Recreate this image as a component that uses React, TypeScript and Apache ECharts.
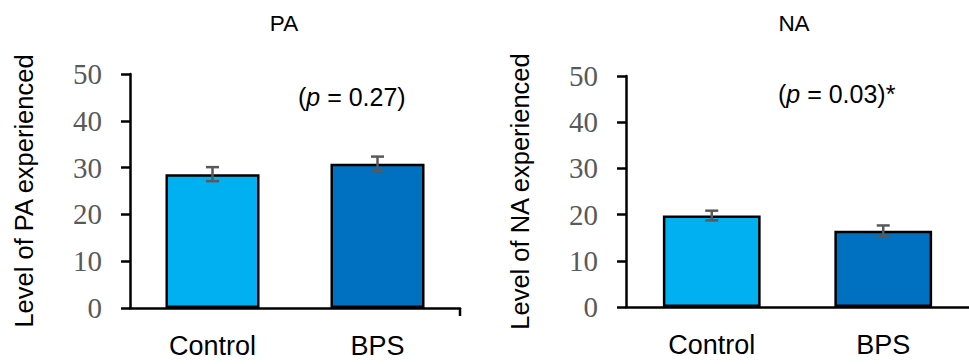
import React, { useEffect, useRef } from 'react';
import * as echarts from 'echarts';

const categories = ['Control', 'BPS'];
const paValues = [28.6, 30.8];
const paErrors = [1.5, 1.55];
const naValues = [19.8, 16.5];
const naErrors = [1.05, 1.15];
const panelTitles = ['PA', 'NA'];
const yAxisNames = ['Level of PA experienced', 'Level of NA experienced'];
const pValues = ['0.27', '0.03'];
const pSuffix = ['', '*'];
const barColors = ['#00B0F0', '#0070C0'];
const yMin = 0;
const yMax = 50;
const yInterval = 10;

const SANS = 'Liberation Sans, Arial, sans-serif';
const SERIF = 'Liberation Serif, Times New Roman, serif';
const GREY = '#595959';

const grids = [
  { left: 130, top: 74, width: 330, height: 234 },
  { left: 626, top: 76, width: 352, height: 231 },
];

function errorRender(params: any, api: any) {
  const x = api.value(0);
  const m = api.value(1);
  const e = api.value(2);
  const top = api.coord([x, m + e]);
  const bot = api.coord([x, m - e]);
  const hw = 6.5;
  const style = { stroke: GREY, lineWidth: 2.5 };
  return {
    type: 'group',
    children: [
      { type: 'line', shape: { x1: top[0], y1: top[1], x2: bot[0], y2: bot[1] }, style },
      { type: 'line', shape: { x1: top[0] - hw, y1: top[1], x2: top[0] + hw, y2: top[1] }, style },
      { type: 'line', shape: { x1: bot[0] - hw, y1: bot[1], x2: bot[0] + hw, y2: bot[1] }, style },
    ],
  };
}

export default function App() {
  const ref = useRef<HTMLDivElement>(null);
  useEffect(() => {
    if (!ref.current) return;
    const chart = echarts.init(ref.current, undefined, { renderer: 'svg' });
    const values = [paValues, naValues];
    const errors = [paErrors, naErrors];
    const xAxes = grids.map((_, i) => ({
      type: 'category' as const,
      gridIndex: i,
      data: categories,
      axisLine: { lineStyle: { color: '#000', width: 2.5 } },
      axisTick: { alignWithLabel: true, length: 8, lineStyle: { color: '#000', width: 2.5 } },
      axisLabel: { margin: 24, fontSize: 27, color: '#000', fontFamily: SANS },
    }));
    const yAxes = grids.map((_, i) => ({
      type: 'value' as const,
      gridIndex: i,
      min: yMin,
      max: yMax,
      interval: yInterval,
      name: yAxisNames[i],
      nameLocation: 'middle' as const,
      nameGap: 93,
      nameTextStyle: { fontSize: 25.5, color: '#000', fontFamily: SANS },
      axisLine: { show: true, lineStyle: { color: '#000', width: 2.5 } },
      axisTick: { show: true, length: 9, lineStyle: { color: '#000', width: 2.5 } },
      axisLabel: { margin: 28, fontSize: 29, color: GREY, fontFamily: SERIF },
      splitLine: { show: false },
    }));
    const series: any[] = [];
    grids.forEach((_, i) => {
      series.push({
        type: 'bar',
        xAxisIndex: i,
        yAxisIndex: i,
        barWidth: '57%',
        data: values[i].map((v, j) => ({
          value: v,
          itemStyle: { color: barColors[j], borderColor: '#000', borderWidth: 2.5 },
        })),
      });
      series.push({
        type: 'custom',
        xAxisIndex: i,
        yAxisIndex: i,
        renderItem: errorRender,
        encode: { x: 0, y: 1 },
        z: 5,
        data: values[i].map((v, j) => [j, v, errors[i][j]]),
      });
    });
    const titleStyle = { fontSize: 22.5, fontFamily: SANS, fill: '#000', align: 'center', verticalAlign: 'middle' };
    chart.setOption({
      animation: false,
      grid: grids,
      xAxis: xAxes,
      yAxis: yAxes,
      series,
      graphic: [
        { type: 'text', x: 284, y: 23, style: { ...titleStyle, text: panelTitles[0] } },
        { type: 'text', x: 794, y: 23, style: { ...titleStyle, text: panelTitles[1] } },
        {
          type: 'text',
          left: 298,
          top: 84,
          style: {
            text: '({i|p} = ' + pValues[0] + ')' + pSuffix[0],
            fontSize: 25,
            fontFamily: SANS,
            fill: '#000',
            rich: { i: { fontStyle: 'italic', fontSize: 25, fontFamily: SANS } },
          },
        },
        {
          type: 'text',
          left: 778,
          top: 81,
          style: {
            text: '({i|p} = ' + pValues[1] + ')' + pSuffix[1],
            fontSize: 25,
            fontFamily: SANS,
            fill: '#000',
            rich: { i: { fontStyle: 'italic', fontSize: 25, fontFamily: SANS } },
          },
        },
        {
          type: 'line',
          shape: { x1: grids[0].left + grids[0].width, y1: grids[0].top + grids[0].height, x2: grids[0].left + grids[0].width, y2: grids[0].top + grids[0].height + 8 },
          style: { stroke: '#000', lineWidth: 2.5 },
        },
      ],
    });
    return () => chart.dispose();
  }, []);
  return <div ref={ref} style={{ position: 'absolute', left: 0, top: 0, width: 969, height: 364 }} />;
}
